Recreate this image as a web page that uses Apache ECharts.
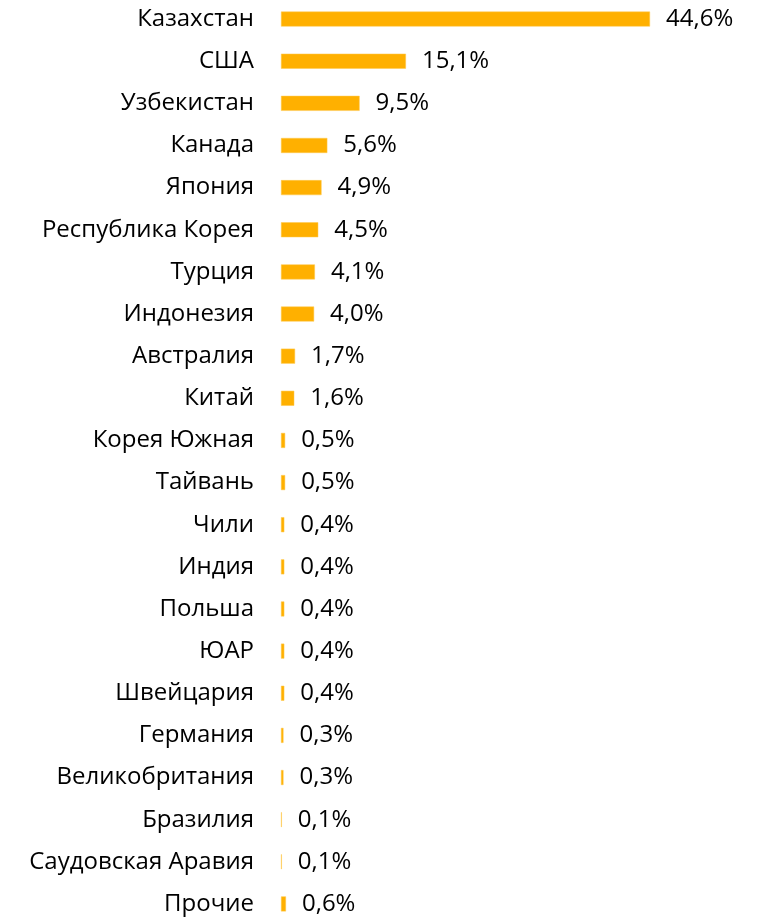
<!DOCTYPE html>
<html><head><meta charset="utf-8">
<script src="https://cdn.jsdelivr.net/npm/echarts@6/dist/echarts.min.js"></script>
<style>html,body{margin:0;padding:0;background:#fff;overflow:hidden}#c{position:absolute;left:0;top:-2px;width:762px;height:927px}</style>
</head><body><div id="c"></div>
<script>
const categories = ["Казахстан","США","Узбекистан","Канада","Япония","Республика Корея","Турция","Индонезия","Австралия","Китай","Корея Южная","Тайвань","Чили","Индия","Польша","ЮАР","Швейцария","Германия","Великобритания","Бразилия","Саудовская Аравия","Прочие"];
const values = [44.6,15.1,9.5,5.6,4.9,4.5,4.1,4.0,1.7,1.6,0.5,0.5,0.4,0.4,0.4,0.4,0.4,0.3,0.3,0.1,0.1,0.6];
const FONT = "Open Sans";
const chart = echarts.init(document.getElementById('c'), null, {renderer:'canvas'});
chart.setOption({
  animation:false,
  grid:{left:281,right:112,top:0,bottom:0,containLabel:false},
  xAxis:{type:'value',min:0,max:44.6,show:false},
  yAxis:{type:'category',data:categories,inverse:true,
    axisLine:{show:false},axisTick:{show:false},splitLine:{show:false},
    axisLabel:{margin:27,color:'#000',fontSize:24,fontFamily:FONT}},
  series:[{type:'bar',data:values,barWidth:15,
    itemStyle:{color:'#FFB000',borderColor:'#FFC94D',borderWidth:0.5},
    label:{show:true,position:'right',distance:16,color:'#000',fontSize:24,fontFamily:FONT,
      formatter:p=>p.value.toFixed(1).replace('.',',')+'%'}}]
});
</script></body></html>
